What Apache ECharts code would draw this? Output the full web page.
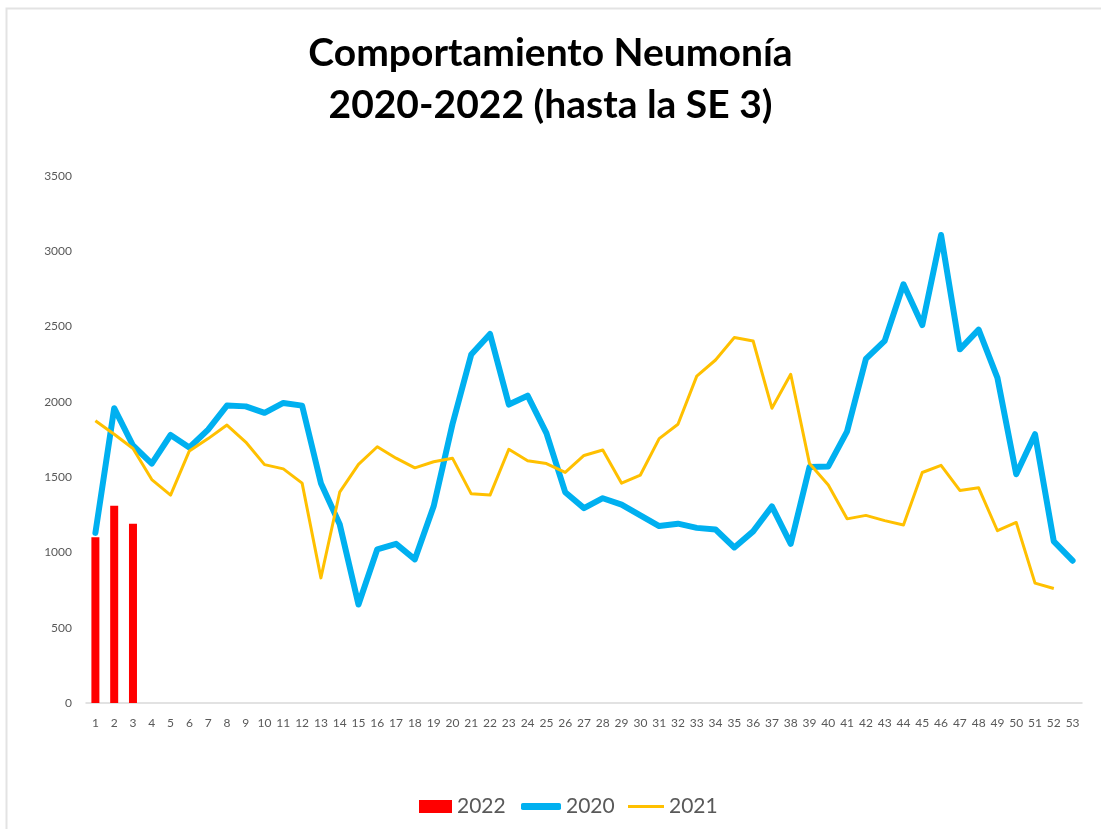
<!DOCTYPE html>
<html>
<head>
<meta charset="utf-8">
<script src="https://cdn.jsdelivr.net/npm/echarts@6/dist/echarts.min.js"></script>
<style>
  html, body { margin: 0; padding: 0; background: #fff; }
  #chart { width: 1101px; height: 829px; }
</style>
</head>
<body>
<div id="chart"></div>
<script>
// semanas epidemiologicas
var semanas = [];
for (var i = 1; i <= 53; i++) { semanas.push(String(i)); }

var yTicks = [0, 500, 1000, 1500, 2000, 2500, 3000, 3500];

// casos 2022 (hasta la SE 3)
var casos2022 = [1100, 1310, 1190];

// casos 2020
var casos2020 = [
    1130, 1958, 1710, 1590, 1780, 1697, 1816, 1975, 1970, 1927,
    1993, 1975, 1460, 1187, 654, 1021, 1057, 954, 1306, 1851,
    2314, 2451, 1982, 2041, 1792, 1400, 1294, 1360, 1318, 1246,
    1175, 1191, 1163, 1152, 1033, 1140, 1306, 1057, 1567, 1571,
    1804, 2285, 2405, 2781, 2510, 3108, 2349, 2480, 2159, 1519,
    1785, 1073, 945
];

// casos 2021
var casos2021 = [
    1875, 1785, 1690, 1484, 1381, 1674, 1756, 1846, 1733, 1583,
    1555, 1460, 831, 1400, 1585, 1702, 1626, 1562, 1602, 1626,
    1389, 1381, 1685, 1609, 1590, 1531, 1644, 1680, 1460, 1514,
    1756, 1851, 2171, 2278, 2427, 2404, 1958, 2183, 1590, 1448,
    1223, 1246, 1211, 1182, 1531, 1578, 1412, 1429, 1144, 1199,
    796, 760
];

var fuente = 'Lato, "Open Sans", sans-serif';
var gris = '#595959';

var chart = echarts.init(document.getElementById('chart'));
var option = {
    backgroundColor: '#fff',
    animation: false,
    title: {
        text: 'Comportamiento Neumonía\n2020-2022 (hasta la SE 3)',
        left: 'center',
        top: 22,
        textStyle: {
            fontFamily: fuente,
            fontWeight: 'bold',
            fontSize: 39,
            lineHeight: 52,
            color: '#000'
        }
    },
    graphic: [
        {
            type: 'rect',
            shape: {x: 6.5, y: 8.5, width: 1110, height: 840},
            style: {fill: 'none', stroke: '#e3e3e3', lineWidth: 2},
            silent: true
        }
    ],
    legend: [
        {
            data: [{name: '2022', icon: 'rect'}],
            left: 414, top: 791,
            itemWidth: 33, itemHeight: 13, itemGap: 4,
            textStyle: {fontFamily: fuente, fontSize: 21, color: gris}
        },
        {
            data: [{name: '2020', icon: 'roundRect'}],
            left: 516, top: 791,
            itemWidth: 40, itemHeight: 7,
            textStyle: {fontFamily: fuente, fontSize: 21, color: gris}
        },
        {
            data: [{name: '2021', icon: 'rect'}],
            left: 623, top: 791,
            itemWidth: 36, itemHeight: 3,
            textStyle: {fontFamily: fuente, fontSize: 21, color: gris}
        }
    ],
    grid: {left: 86, right: 19, top: 176, bottom: 126, containLabel: false},
    xAxis: {
        type: 'category',
        data: semanas,
        boundaryGap: true,
        axisLine: {lineStyle: {color: '#d9d9d9', width: 1.5}},
        axisTick: {show: false},
        axisLabel: {interval: 0, fontFamily: fuente, fontSize: 12, color: gris, margin: 14},
        splitLine: {show: false}
    },
    yAxis: {
        type: 'value',
        min: yTicks[0],
        max: yTicks[yTicks.length - 1],
        interval: 500,
        axisLine: {show: false},
        axisTick: {show: false},
        axisLabel: {
            fontFamily: fuente, fontSize: 12, color: gris, margin: 14,
            formatter: function (v) { return String(v); }
        },
        splitLine: {show: false}
    },
    series: [
        {
            name: '2022',
            type: 'bar',
            data: casos2022,
            barWidth: 8,
            itemStyle: {color: '#ff0000'}
        },
        {
            name: '2020',
            type: 'line',
            data: casos2020,
            symbol: 'none',
            lineStyle: {color: '#00b0f0', width: 6, join: 'round', cap: 'round'},
            itemStyle: {color: '#00b0f0'}
        },
        {
            name: '2021',
            type: 'line',
            data: casos2021,
            symbol: 'none',
            lineStyle: {color: '#ffc000', width: 3, join: 'round'},
            itemStyle: {color: '#ffc000'}
        }
    ]
};
chart.setOption(option);
</script>
</body>
</html>
